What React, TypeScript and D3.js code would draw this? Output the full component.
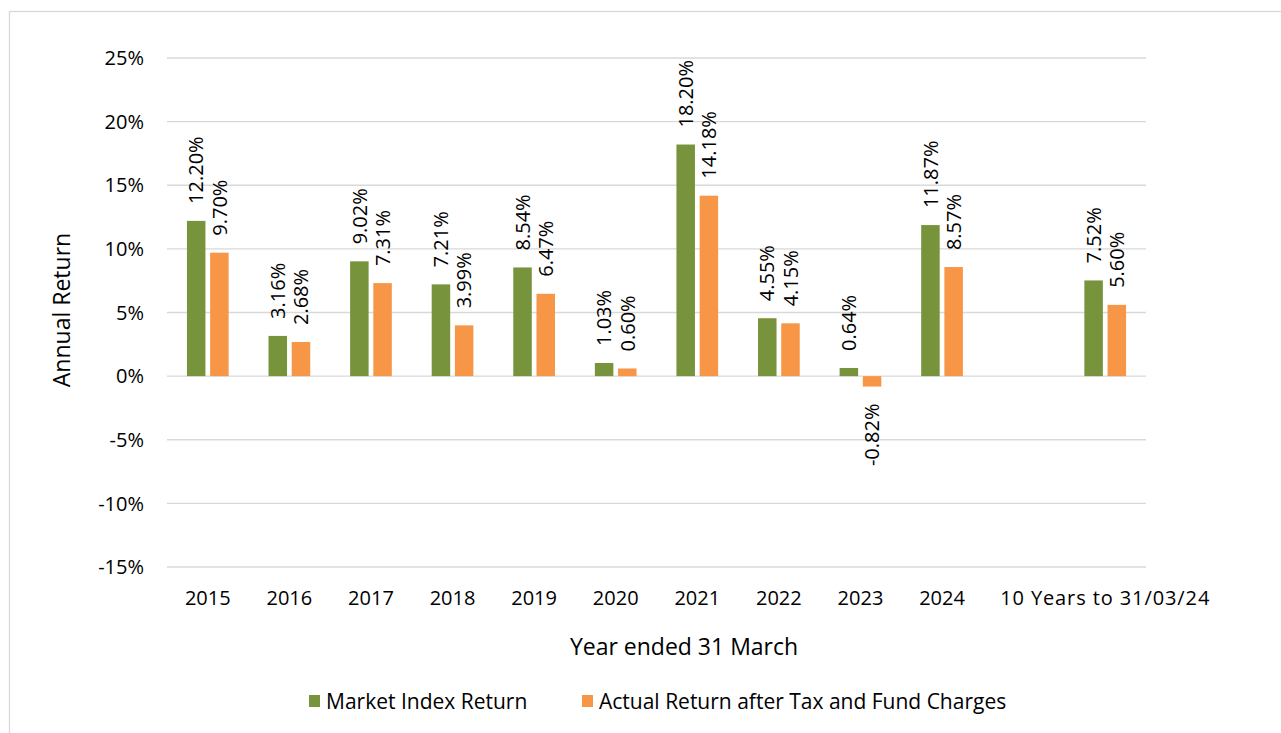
import React from "react";
import * as d3 from "d3";

const categories = ["2015", "2016", "2017", "2018", "2019", "2020", "2021", "2022", "2023", "2024", "", "10 Years to 31/03/24"];
const marketIndex: (number | null)[] = [12.2, 3.16, 9.02, 7.21, 8.54, 1.03, 18.2, 4.55, 0.64, 11.87, null, 7.52];
const actualReturn: (number | null)[] = [9.7, 2.68, 7.31, 3.99, 6.47, 0.6, 14.18, 4.15, -0.82, 8.57, null, 5.6];
const yTicks = [-15, -10, -5, 0, 5, 10, 15, 20, 25];
const seriesNames = ["Market Index Return", "Actual Return after Tax and Fund Charges"];
const seriesColors = ["#77933C", "#F79646"];

const W = 1281;
const H = 733;
const FONT = "'Open Sans', sans-serif";

export default function App() {
  const keys = categories.map((c, i) => `${i}|${c}`);
  const x = d3.scaleBand<string>().domain(keys).range([167, 1146]).padding(0);
  const y = d3.scaleLinear().domain([-15, 25]).range([567, 58]);
  const barW = 18.5;
  const offsets = [-11.6, 11.6];
  const series = [marketIndex, actualReturn];
  const gap = 17;

  return (
    <svg width={W} height={H} style={{ position: "absolute", left: 0, top: 0, background: "#fff" }} fontFamily={FONT}>
      <rect x={9.5} y={11.5} width={W + 10} height={H + 10} fill="#fff" stroke="#d9d9d9" strokeWidth={1.3} />
      {yTicks.map((t) => (
        <g key={t}>
          <line x1={167} x2={1146} y1={y(t)} y2={y(t)} stroke="#d9d9d9" strokeWidth={1.3} />
          <text x={144} y={y(t)} dy="0.36em" textAnchor="end" fontSize={20} fill="#000">
            {`${t}%`}
          </text>
        </g>
      ))}
      {series.map((vals, si) =>
        vals.map((v, i) => {
          if (v === null) return null;
          const cx = (x(keys[i]) as number) + x.bandwidth() / 2 + offsets[si];
          const y0 = y(0);
          const yv = y(v);
          return (
            <rect
              key={`b${si}-${i}`}
              x={cx - barW / 2}
              y={Math.min(y0, yv)}
              width={barW}
              height={Math.abs(yv - y0)}
              fill={seriesColors[si]}
            />
          );
        })
      )}
      {series.map((vals, si) =>
        vals.map((v, i) => {
          if (v === null) return null;
          const cx = (x(keys[i]) as number) + x.bandwidth() / 2 + offsets[si];
          const yv = y(v);
          const pos = v >= 0;
          const ly = pos ? yv - gap : yv + gap;
          return (
            <text
              key={`l${si}-${i}`}
              transform={`translate(${cx},${ly}) rotate(-90)`}
              textAnchor={pos ? "start" : "end"}
              dy="0.36em"
              fontSize={20}
              fill="#000"
            >
              {`${v.toFixed(2)}%`}
            </text>
          );
        })
      )}
      {categories.map((c, i) => (
        <text
          key={`c${i}`}
          x={(x(keys[i]) as number) + x.bandwidth() / 2}
          y={605}
          textAnchor="middle"
          fontSize={20}
          letterSpacing={c.length > 4 ? 0.9 : 0}
          fill="#000"
        >
          {c}
        </text>
      ))}
      <text x={684} y={655} textAnchor="middle" fontSize={23} fill="#000">
        Year ended 31 March
      </text>
      <text transform={`translate(70,310) rotate(-90)`} textAnchor="middle" fontSize={23} fill="#000">
        Annual Return
      </text>
      <g>
        <rect x={309} y={695} width={11} height={12} fill={seriesColors[0]} />
        <text x={326} y={709} fontSize={21} fill="#000">
          {seriesNames[0]}
        </text>
        <rect x={582} y={695} width={11} height={12} fill={seriesColors[1]} />
        <text x={599} y={709} fontSize={21} fill="#000">
          {seriesNames[1]}
        </text>
      </g>
    </svg>
  );
}
